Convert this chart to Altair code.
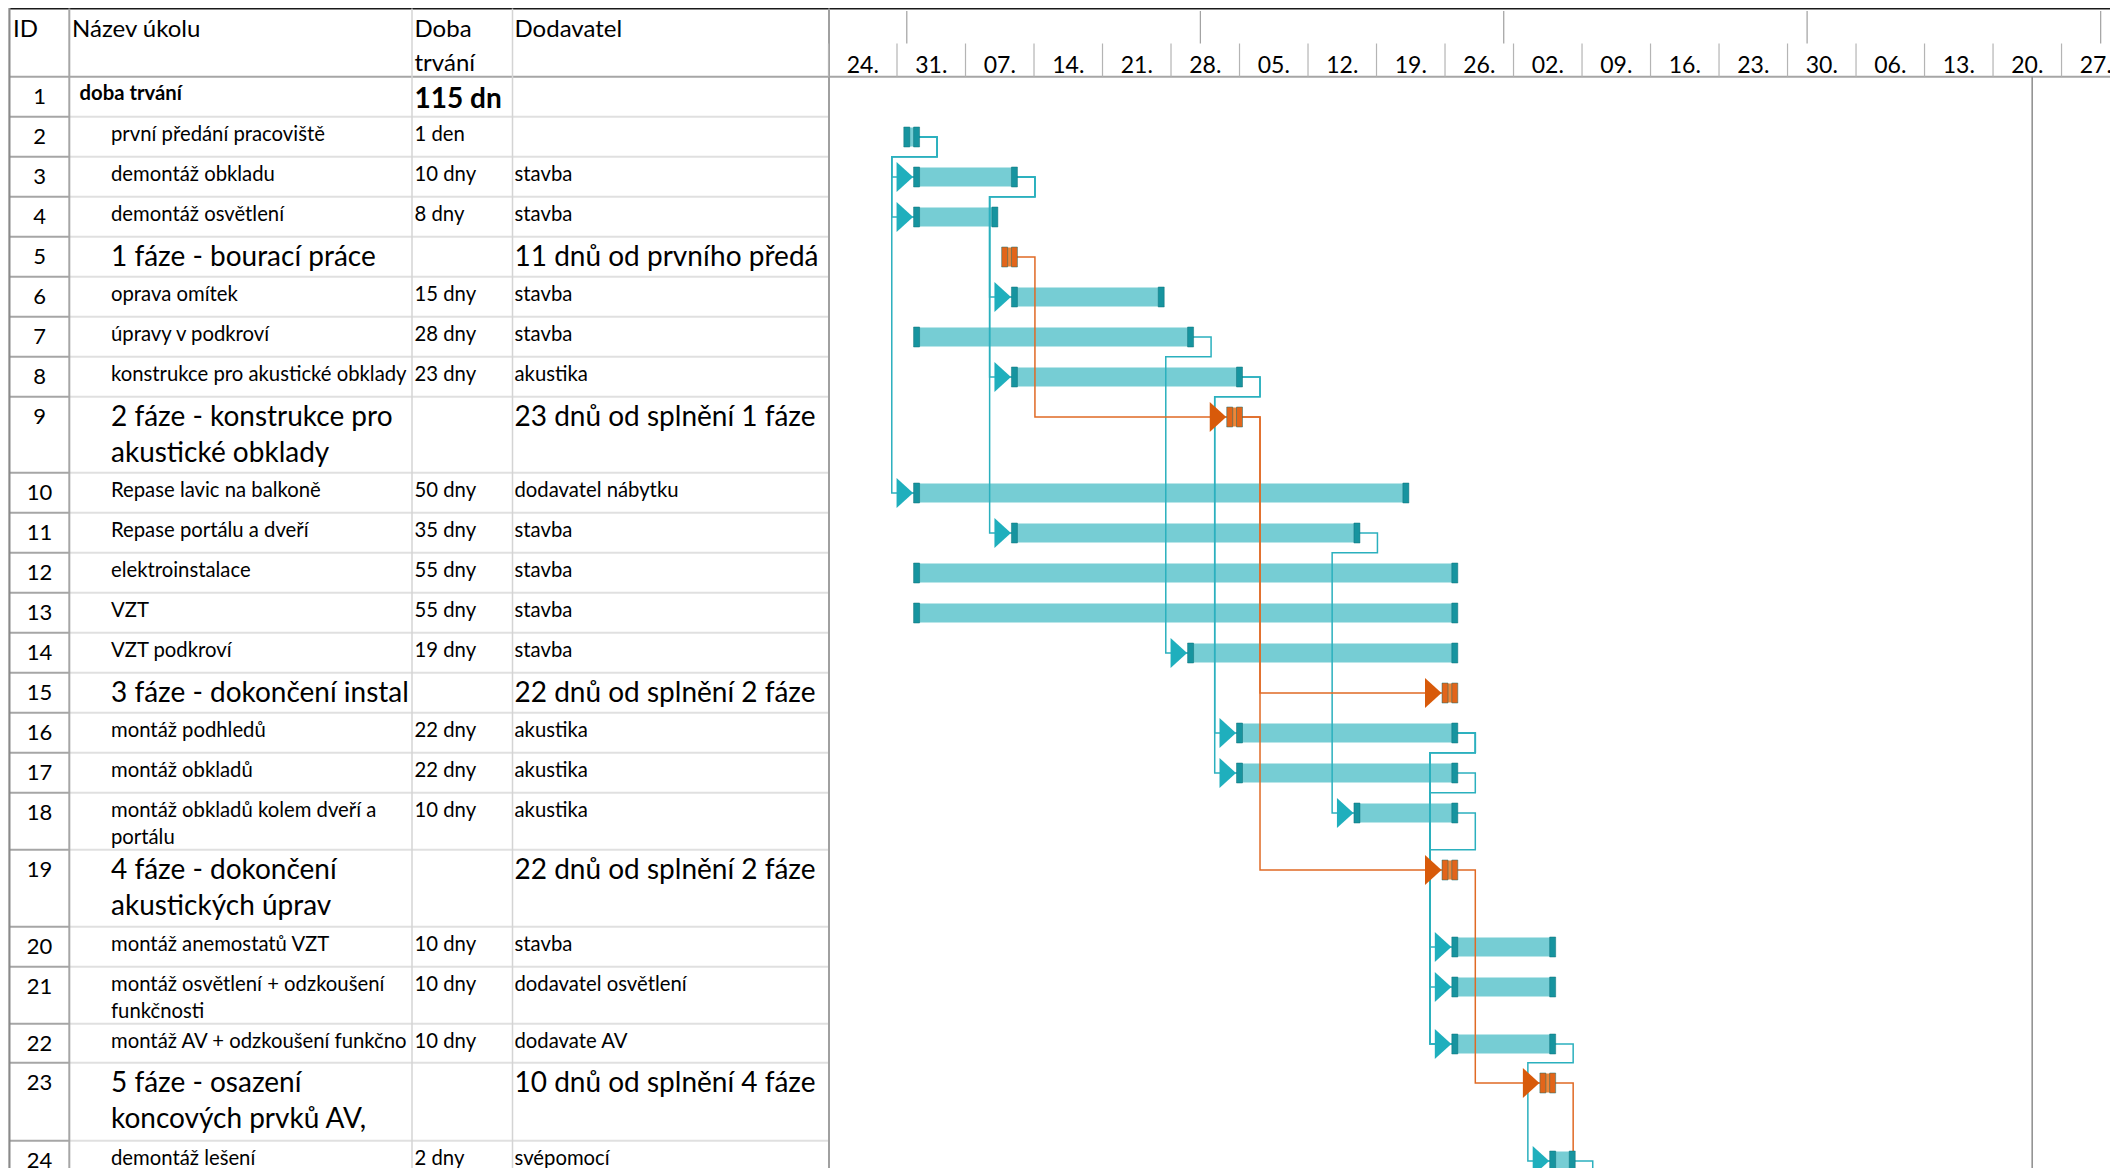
import altair as alt
import pandas as pd

# ---------------- values ----------------
task_ids = list(range(1, 25))
task_names = [
    "doba trvání",
    "první předání pracoviště",
    "demontáž obkladu",
    "demontáž osvětlení",
    "1 fáze - bourací práce",
    "oprava omítek",
    "úpravy v podkroví",
    "konstrukce pro akustické obklady",
    "2 fáze - konstrukce pro\nakustické obklady",
    "Repase lavic na balkoně",
    "Repase portálu a dveří",
    "elektroinstalace",
    "VZT",
    "VZT podkroví",
    "3 fáze - dokončení instalací",
    "montáž podhledů",
    "montáž obkladů",
    "montáž obkladů kolem dveří a\nportálu",
    "4 fáze - dokončení\nakustických úprav",
    "montáž anemostatů VZT",
    "montáž osvětlení + odzkoušení\nfunkčnosti",
    "montáž AV + odzkoušení funkčnosti",
    "5 fáze - osazení\nkoncových prvků AV,",
    "demontáž lešení",
]
task_durations = ["115 dny", "1 den", "10 dny", "8 dny", "", "15 dny", "28 dny", "23 dny", "",
                  "50 dny", "35 dny", "55 dny", "55 dny", "19 dny", "", "22 dny", "22 dny",
                  "10 dny", "", "10 dny", "10 dny", "10 dny", "", "2 dny"]
task_suppliers = ["", "", "stavba", "stavba", "11 dnů od prvního předání", "stavba", "stavba",
                  "akustika", "23 dnů od splnění 1 fáze", "dodavatel nábytku", "stavba", "stavba",
                  "stavba", "stavba", "22 dnů od splnění 2 fáze", "akustika", "akustika", "akustika",
                  "22 dnů od splnění 2 fáze", "stavba", "dodavatel osvětlení", "dodavate AV",
                  "10 dnů od splnění 4 fáze", "svépomocí"]
task_kind = ["summary", "task", "task", "task", "phase", "task", "task", "task", "phase", "task",
             "task", "task", "task", "task", "phase", "task", "task", "task", "phase", "task",
             "task", "task", "phase", "task"]
bar_start = [None, "2021-06-01", "2021-06-02", "2021-06-02", "2021-06-11", "2021-06-12",
             "2021-06-02", "2021-06-12", "2021-07-04", "2021-06-02", "2021-06-12", "2021-06-02",
             "2021-06-02", "2021-06-30", "2021-07-26", "2021-07-05", "2021-07-05", "2021-07-17",
             "2021-07-26", "2021-07-27", "2021-07-27", "2021-07-27", "2021-08-05", "2021-08-06"]
bar_end = [None, "2021-06-02", "2021-06-12", "2021-06-10", "2021-06-12", "2021-06-27",
           "2021-06-30", "2021-07-05", "2021-07-05", "2021-07-22", "2021-07-17", "2021-07-27",
           "2021-07-27", "2021-07-27", "2021-07-27", "2021-07-27", "2021-07-27", "2021-07-27",
           "2021-07-27", "2021-08-06", "2021-08-06", "2021-08-06", "2021-08-06", "2021-08-08"]
teal_links = [(2, 3), (2, 4), (2, 10), (3, 6), (3, 8), (3, 11), (7, 14), (8, 16), (8, 17),
              (11, 18), (16, 20), (16, 21), (16, 22), (17, 22), (18, 22), (22, 24), (24, None)]
orange_links = [(5, 9), (9, 15), (9, 19), (19, 23), (23, None)]
week_starts = ["2021-05-24", "2021-05-31", "2021-06-07", "2021-06-14", "2021-06-21", "2021-06-28",
               "2021-07-05", "2021-07-12", "2021-07-19", "2021-07-26", "2021-08-02", "2021-08-09",
               "2021-08-16", "2021-08-23", "2021-08-30", "2021-09-06", "2021-09-13", "2021-09-20",
               "2021-09-27"]
week_labels = ["24.", "31.", "07.", "14.", "21.", "28.", "05.", "12.", "19.", "26.", "02.", "09.",
               "16.", "23.", "30.", "06.", "13.", "20.", "27."]
month_starts = ["2021-06-01", "2021-07-01", "2021-08-01", "2021-09-01", "2021-10-01"]
status_date = "2021-09-24"
header_labels = ["ID", "Název úkolu", "Doba\ntrvání", "Dodavatel"]

# ---------------- layout (page pixels) ----------------
W, H = 2102, 1160
M = 8
FONT = "Lato"
x_tab = alt.Scale(domain=[M, M + W], range=[0, W])
y_pix = alt.Scale(domain=[M, M + H], range=[0, H])
t_range = [820.5, 820.5 + 132 * 9.786]
x_time = alt.Scale(type="time",
                   domain=[alt.DateTime(year=2021, month=5, date=24),
                           alt.DateTime(year=2021, month=10, date=3)],
                   range=t_range)
px_day = (t_range[1] - t_range[0]) / 132.0

col_x = [9.5, 69.3, 412, 512.5, 829]           # column borders
text_x = [39.5, 111, 414.5, 514.5]             # cell text anchors
header_x = [13, 72, 414.5, 514.5]
HEADER_TOP, HEADER_BOTTOM = 8.6, 76.7
row_height = [40] * 8 + [76] + [40] * 8 + [57, 77, 40, 57, 39, 78, 40]
tops = []
t = HEADER_BOTTOM
for h in row_height:
    tops.append(t)
    t += h
yc = [tp + 20.3 for tp in tops]

TEAL, TEAL_CAP, TEAL_LINK, TEAL_ARROW = "#76CDD4", "#17949F", "#2BB0BE", "#1FAFBD"
ORANGE, ORANGE_CAP, ORANGE_LINK, ORANGE_ARROW = "#F08536", "#E2651A", "#E06A25", "#D85A0A"

def d(s):
    return pd.Timestamp(s)

# ---------------- table grid ----------------
hl = [dict(x1=col_x[0], x2=M + W, y=HEADER_TOP, c="#1a1a1a", w=2),
      dict(x1=col_x[0], x2=M + W, y=HEADER_BOTTOM, c="#A6A6A6", w=2)]
for tp, h in zip(tops, row_height):
    hl.append(dict(x1=col_x[0], x2=col_x[1], y=tp + h, c="#A6A6A6", w=2))
    hl.append(dict(x1=col_x[1], x2=col_x[4], y=tp + h, c="#E0E0E0", w=2))
hl = pd.DataFrame(hl)
vl = pd.DataFrame([
    dict(x=col_x[0], y1=M, y2=M + H, c="#8A8A8A", w=2),
    dict(x=col_x[1], y1=HEADER_TOP, y2=M + H, c="#A6A6A6", w=2),
    dict(x=col_x[2], y1=HEADER_TOP, y2=M + H, c="#D4D4D4", w=1.5),
    dict(x=col_x[3], y1=HEADER_TOP, y2=M + H, c="#D4D4D4", w=1.5),
    dict(x=col_x[4], y1=HEADER_TOP, y2=M + H, c="#A0A0A0", w=2),
])
h_layer = alt.Chart(hl).mark_rule().encode(
    x=alt.X("x1:Q", scale=x_tab, axis=None), x2="x2:Q",
    y=alt.Y("y:Q", scale=y_pix, axis=None),
    color=alt.Color("c:N", scale=None), strokeWidth=alt.StrokeWidth("w:Q", scale=None))
v_layer = alt.Chart(vl).mark_rule().encode(
    x=alt.X("x:Q", scale=x_tab, axis=None),
    y=alt.Y("y1:Q", scale=y_pix, axis=None), y2="y2:Q",
    color=alt.Color("c:N", scale=None), strokeWidth=alt.StrokeWidth("w:Q", scale=None))

# ---------------- table text ----------------
cells = []
for k, lab in enumerate(header_labels):
    for j, line in enumerate(lab.split("\n")):
        cells.append(dict(style="header", x=header_x[k], y=37.3 + j * 33.4, text=line))
for i in range(24):
    tp, kind = tops[i], task_kind[i]
    cells.append(dict(style="id", x=text_x[0], y=tp + 27.0, text=str(task_ids[i])))
    if kind == "summary":
        cells.append(dict(style="sum_name", x=79.5, y=tp + 23.3, text=task_names[i]))
        cells.append(dict(style="sum_dur", x=text_x[2], y=tp + 31.6, text=task_durations[i]))
        continue
    big = kind == "phase"
    base, lh = (29.0, 36.7) if big else (24.0, 27.0)
    for j, line in enumerate(task_names[i].split("\n")):
        cells.append(dict(style="phase_name" if big else "name", x=text_x[1],
                          y=tp + base + j * lh, text=line))
    if task_durations[i]:
        cells.append(dict(style="dur", x=text_x[2], y=tp + 24.0, text=task_durations[i]))
    if task_suppliers[i]:
        cells.append(dict(style="phase_sup" if big else "sup", x=text_x[3], y=tp + base,
                          text=task_suppliers[i]))
cells = pd.DataFrame(cells)

styles = {
    "header": dict(fontSize=24),
    "id": dict(fontSize=22, align="center"),
    "name": dict(fontSize=20.3, limit=300),
    "phase_name": dict(fontSize=28, limit=300),
    "sum_name": dict(fontSize=20.3, fontWeight="bold"),
    "sum_dur": dict(fontSize=28, fontWeight="bold", limit=97),
    "dur": dict(fontSize=20.3, limit=97),
    "sup": dict(fontSize=20.3, limit=313),
    "phase_sup": dict(fontSize=28, limit=313),
}
text_layers = []
for st, props in styles.items():
    kw = dict(font=FONT, align="left", baseline="alphabetic", color="#000000",
              ellipsis="\u200b")
    kw.update(props)
    text_layers.append(
        alt.Chart(cells[cells["style"] == st]).mark_text(**kw).encode(
            x=alt.X("x:Q", scale=x_tab, axis=None),
            y=alt.Y("y:Q", scale=y_pix, axis=None),
            text="text:N"))

# ---------------- timescale header ----------------
months = pd.DataFrame(dict(t=pd.to_datetime(month_starts), y1=11.0, y2=43.5))
weeks = pd.DataFrame(dict(t=pd.to_datetime(week_starts), y1=43.5, y2=HEADER_BOTTOM))
wlab = pd.DataFrame(dict(t=pd.to_datetime(week_starts) + pd.Timedelta(days=3.5),
                         y=73.3, text=week_labels))
status = pd.DataFrame(dict(t=[d(status_date)], y1=[HEADER_BOTTOM], y2=[M + H]))

def vrule(df, color, width):
    return alt.Chart(df).mark_rule(color=color, strokeWidth=width).encode(
        x=alt.X("t:T", scale=x_time, axis=None),
        y=alt.Y("y1:Q", scale=y_pix, axis=None), y2="y2:Q")

month_layer = vrule(months, "#A0A0A0", 1.2)
week_layer = vrule(weeks, "#B4B4B4", 1.2)
status_layer = vrule(status, "#8C8C8C", 1.5)
wlab_layer = alt.Chart(wlab).mark_text(font=FONT, fontSize=23, align="center",
                                       baseline="alphabetic", color="#000000").encode(
    x=alt.X("t:T", scale=x_time, axis=None),
    y=alt.Y("y:Q", scale=y_pix, axis=None), text="text:N")

# ---------------- bars, caps, links, arrows ----------------
bars, caps = [], []
for i in range(24):
    if bar_start[i] is None:
        continue
    phase = task_kind[i] == "phase"
    bars.append(dict(s=d(bar_start[i]), e=d(bar_end[i]), y=yc[i], c=ORANGE if phase else TEAL))
    for v in (bar_start[i], bar_end[i]):
        caps.append(dict(t=d(v), y=yc[i], c=ORANGE_CAP if phase else TEAL_CAP))
bars = pd.DataFrame(bars)
caps = pd.DataFrame(caps)

DR = 20.5 / px_day
DB = 24.8 / px_day
links, arrows = [], {}
for name, lst, lc, ac in (("t", teal_links, TEAL_LINK, TEAL_ARROW),
                          ("o", orange_links, ORANGE_LINK, ORANGE_ARROW)):
    for k, (p, s) in enumerate(lst):
        pe, yp = d(bar_end[p - 1]), yc[p - 1]
        xr = pe + pd.Timedelta(days=DR)
        pts = [(pe, yp), (xr, yp)]
        if s is None:
            pts.append((xr, M + H + 60))
        else:
            ss, ys = d(bar_start[s - 1]), yc[s - 1]
            if ss > xr:
                pts += [(xr, ys), (ss, ys)]
            else:
                yb = tops[p - 1] + row_height[p - 1]
                xb = ss - pd.Timedelta(days=DB)
                pts += [(xr, yb), (xb, yb), (xb, ys), (ss, ys)]
            arrows[(s, name)] = dict(t=ss, y=ys, c=ac)
        for j, (x, y) in enumerate(pts):
            links.append(dict(lid=f"{name}{k}", seq=j, t=x, y=y, c=lc))
links = pd.DataFrame(links)
arrows = pd.DataFrame(list(arrows.values()))

bar_layer = alt.Chart(bars).mark_rect(yOffset=-9.5, y2Offset=9.5).encode(
    x=alt.X("s:T", scale=x_time, axis=None), x2="e:T",
    y=alt.Y("y:Q", scale=y_pix, axis=None), y2="y:Q",
    color=alt.Color("c:N", scale=None))
link_layer = alt.Chart(links).mark_line(strokeWidth=1.5, clip=True).encode(
    x=alt.X("t:T", scale=x_time, axis=None),
    y=alt.Y("y:Q", scale=y_pix, axis=None),
    detail="lid:N", order=alt.Order("seq:Q"),
    color=alt.Color("c:N", scale=None))
cap_layer = alt.Chart(caps).mark_rect(xOffset=-3, x2Offset=3, yOffset=-10, y2Offset=10,
                                      strokeWidth=0.8, strokeOpacity=0.6,
                                      stroke="#0B6F78").encode(
    x=alt.X("t:T", scale=x_time, axis=None), x2="t:T",
    y=alt.Y("y:Q", scale=y_pix, axis=None), y2="y:Q",
    color=alt.Color("c:N", scale=None))
arrow_layer = alt.Chart(arrows).mark_point(shape="M-1.1,-1L0,0L-1.1,1Z", size=900, filled=True,
                                           opacity=1, strokeWidth=0, xOffset=-3.5).encode(
    x=alt.X("t:T", scale=x_time, axis=None),
    y=alt.Y("y:Q", scale=y_pix, axis=None),
    color=alt.Color("c:N", scale=None))

chart = alt.layer(
    h_layer, v_layer, *text_layers,
    month_layer, week_layer, wlab_layer, status_layer,
    bar_layer, link_layer, cap_layer, arrow_layer,
).resolve_scale(x="independent").properties(
    width=W, height=H, padding=0, autosize=alt.AutoSizeParams(type="none"),
).configure_view(strokeWidth=0).configure(background="white")

chart.save("out.html", embed_options={"renderer": "svg", "actions": False})
